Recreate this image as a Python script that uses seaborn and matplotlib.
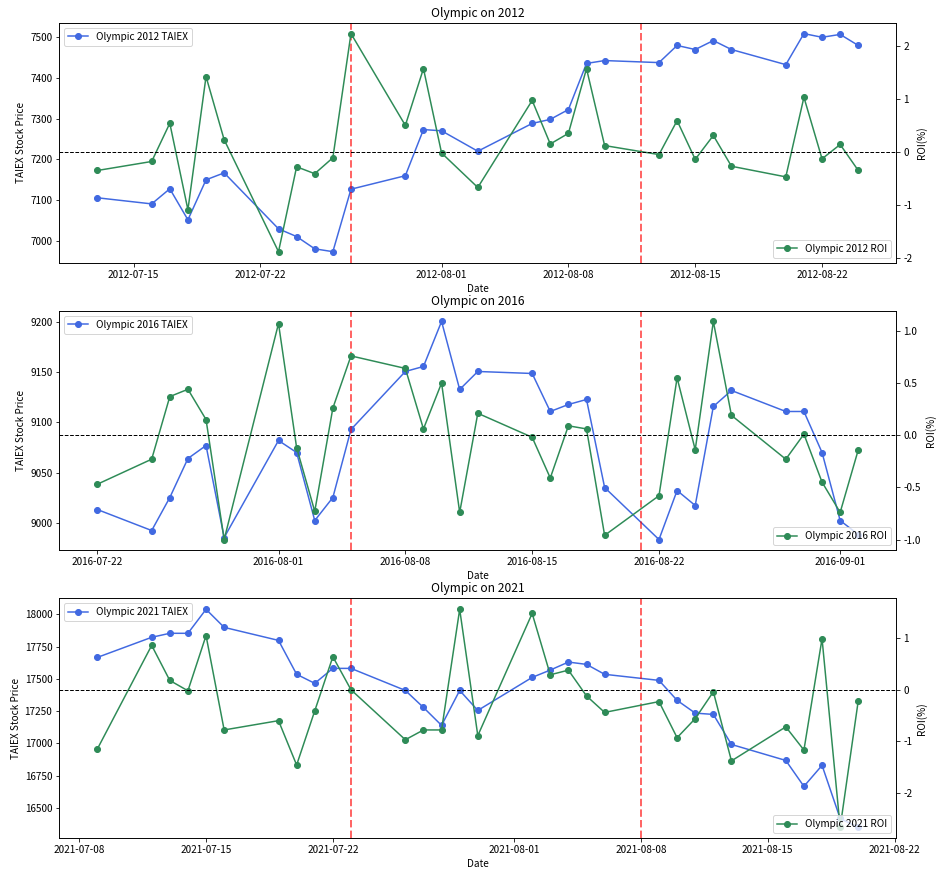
import pandas as pd
import matplotlib
matplotlib.use('Agg')
import matplotlib.pyplot as plt
import seaborn as sns

plt.rcParams['font.family'] = ['Noto Sans CJK TC', 'DejaVu Sans']
plt.rcParams['axes.unicode_minus'] = False

# ---------- data ----------
dates_2012 = ['2012-07-13', '2012-07-16', '2012-07-17', '2012-07-18', '2012-07-19', '2012-07-20',
              '2012-07-23', '2012-07-24', '2012-07-25', '2012-07-26', '2012-07-27',
              '2012-07-30', '2012-07-31', '2012-08-01', '2012-08-03',
              '2012-08-06', '2012-08-07', '2012-08-08', '2012-08-09', '2012-08-10',
              '2012-08-13', '2012-08-14', '2012-08-15', '2012-08-16', '2012-08-17',
              '2012-08-20', '2012-08-21', '2012-08-22', '2012-08-23', '2012-08-24']
taiex_2012 = [7106, 7091, 7128, 7052, 7150, 7167,
              7030, 7011, 6981, 6974, 7127,
              7160, 7273, 7270, 7220,
              7288, 7298, 7322, 7435, 7442,
              7437, 7479, 7469, 7491, 7469,
              7432, 7508, 7499, 7506, 7479]
roi_2012 = [-0.35, -0.18, 0.54, -1.09, 1.42, 0.23,
            -1.88, -0.28, -0.41, -0.11, 2.23,
            0.50, 1.57, -0.02, -0.67,
            0.97, 0.15, 0.35, 1.57, 0.12,
            -0.05, 0.59, -0.14, 0.31, -0.27,
            -0.47, 1.03, -0.13, 0.14, -0.35]
events_2012 = ['2012-07-27', '2012-08-12']

dates_2016 = ['2016-07-22', '2016-07-25', '2016-07-26', '2016-07-27', '2016-07-28', '2016-07-29',
              '2016-08-01', '2016-08-02', '2016-08-03', '2016-08-04', '2016-08-05',
              '2016-08-08', '2016-08-09', '2016-08-10', '2016-08-11', '2016-08-12',
              '2016-08-15', '2016-08-16', '2016-08-17', '2016-08-18', '2016-08-19',
              '2016-08-22', '2016-08-23', '2016-08-24', '2016-08-25', '2016-08-26',
              '2016-08-29', '2016-08-30', '2016-08-31', '2016-09-01', '2016-09-02']
taiex_2016 = [9013, 8992, 9025, 9064, 9077, 8985,
              9082, 9070, 9002, 9025, 9093,
              9151, 9156, 9201, 9133, 9151,
              9149, 9111, 9118, 9123, 9035,
              8983, 9032, 9017, 9116, 9132,
              9111, 9111, 9070, 9002, 8988]
roi_2016 = [-0.47, -0.23, 0.37, 0.44, 0.15, -1.00,
            1.07, -0.12, -0.73, 0.26, 0.76,
            0.64, 0.06, 0.50, -0.74, 0.21,
            -0.02, -0.41, 0.09, 0.06, -0.96,
            -0.58, 0.55, -0.14, 1.09, 0.19,
            -0.23, 0.01, -0.45, -0.74, -0.14]
events_2016 = ['2016-08-05', '2016-08-21']

dates_2021 = ['2021-07-09', '2021-07-12', '2021-07-13', '2021-07-14', '2021-07-15', '2021-07-16',
              '2021-07-19', '2021-07-20', '2021-07-21', '2021-07-22', '2021-07-23',
              '2021-07-26', '2021-07-27', '2021-07-28', '2021-07-29', '2021-07-30',
              '2021-08-02', '2021-08-03', '2021-08-04', '2021-08-05', '2021-08-06',
              '2021-08-09', '2021-08-10', '2021-08-11', '2021-08-12', '2021-08-13',
              '2021-08-16', '2021-08-17', '2021-08-18', '2021-08-19', '2021-08-20']
taiex_2021 = [17666, 17822, 17853, 17853, 18039, 17899,
              17798, 17535, 17465, 17581, 17581,
              17410, 17278, 17139, 17410, 17255,
              17511, 17568, 17630, 17612, 17535,
              17488, 17333, 17234, 17224, 16991,
              16867, 16666, 16829, 16417, 16348]
roi_2021 = [-1.15, 0.86, 0.18, -0.02, 1.05, -0.78,
            -0.60, -1.46, -0.41, 0.64, 0.00,
            -0.97, -0.78, -0.78, 1.56, -0.89,
            1.48, 0.29, 0.38, -0.12, -0.44,
            -0.23, -0.93, -0.56, -0.04, -1.38,
            -0.72, -1.17, 0.99, -2.67, -0.21]
events_2021 = ['2021-07-23', '2021-08-08']

years = ['2012', '2016', '2021']
all_dates = [dates_2012, dates_2016, dates_2021]
all_taiex = [taiex_2012, taiex_2016, taiex_2021]
all_roi = [roi_2012, roi_2016, roi_2021]
all_events = [events_2012, events_2016, events_2021]

fig, axes = plt.subplots(3, 1, figsize=(944 / 72, 880 / 72), dpi=72)
fig.subplots_adjust(left=0.0628, right=0.9495, top=0.9742, bottom=0.0474, hspace=0.2)

for ax1, year, d, taiex, roi, events in zip(axes, years, all_dates, all_taiex, all_roi, all_events):
    df = pd.DataFrame({'Date': pd.to_datetime(d), 'Close': taiex, 'ROI': roi})

    # stock price on the left axis
    sns.lineplot(x='Date', y='Close', data=df, ax=ax1, color='royalblue', marker='o',
                 markersize=6, markeredgecolor='royalblue', markeredgewidth=1,
                 label='Olympic ' + year + ' TAIEX')
    ax1.set_title('Olympic on ' + year)
    ax1.set_xlabel('Date')
    ax1.set_ylabel('TAIEX Stock Price')
    ax1.legend(loc='upper left')

    # opening / closing days
    for e in events:
        ax1.axvline(pd.Timestamp(e), color='red', linestyle='--', alpha=0.6, linewidth=2)

    # ROI on the right axis
    ax2 = ax1.twinx()
    sns.lineplot(x='Date', y='ROI', data=df, ax=ax2, color='seagreen', marker='o',
                 markersize=6, markeredgecolor='seagreen', markeredgewidth=1,
                 label='Olympic ' + year + ' ROI')
    ax2.set_ylabel('ROI(%)')
    ax2.axhline(0, color='black', linestyle='--', linewidth=1)
    ax2.legend(loc='lower right')

fig.savefig('out.png', dpi=72)
